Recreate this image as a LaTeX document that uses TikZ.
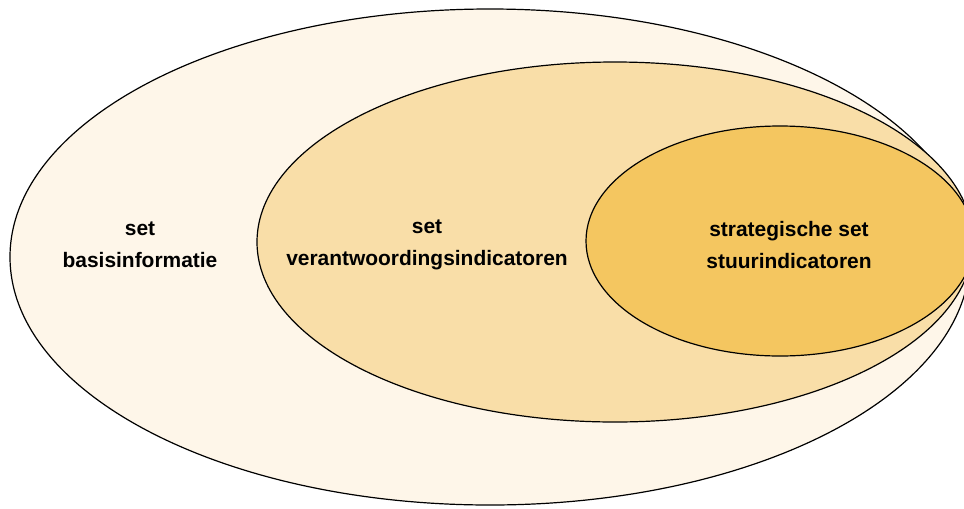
\documentclass[tikz,border=0pt]{standalone}
\usepackage{fontspec}
\setmainfont{Liberation Sans}
\usetikzlibrary{positioning}

\definecolor{basiskleur}{RGB}{254,246,233}
\definecolor{verantkleur}{RGB}{249,222,168}
\definecolor{stuurkleur}{RGB}{244,198,96}

\begin{document}
\begin{tikzpicture}[
      x=0.75pt, y=-0.75pt,
      laag/.style={draw=black, line width=0.9pt},
      label/.style={align=center, font=\fontsize{15.7}{24}\selectfont\bfseries},
    ]
    \useasboundingbox (0,0) rectangle (964,508);
    \clip (0,0) rectangle (964,508);

    % Sets
    \filldraw[laag, fill=basiskleur]  (490,257) ellipse (480 and 248);
    \filldraw[laag, fill=verantkleur] (615,242) ellipse (358 and 180);
    \filldraw[laag, fill=stuurkleur]  (780,241) ellipse (194 and 115);

    % Labels
    \node[label] (basis)  at (140,245) {set\\basisinformatie};
    \node[label] (verant) at (427,245) {set\\verantwoordingsindicatoren};
    \node[label] (stuur)  at (789,245) {strategische set\\stuurindicatoren};
  \end{tikzpicture}
\end{document}
